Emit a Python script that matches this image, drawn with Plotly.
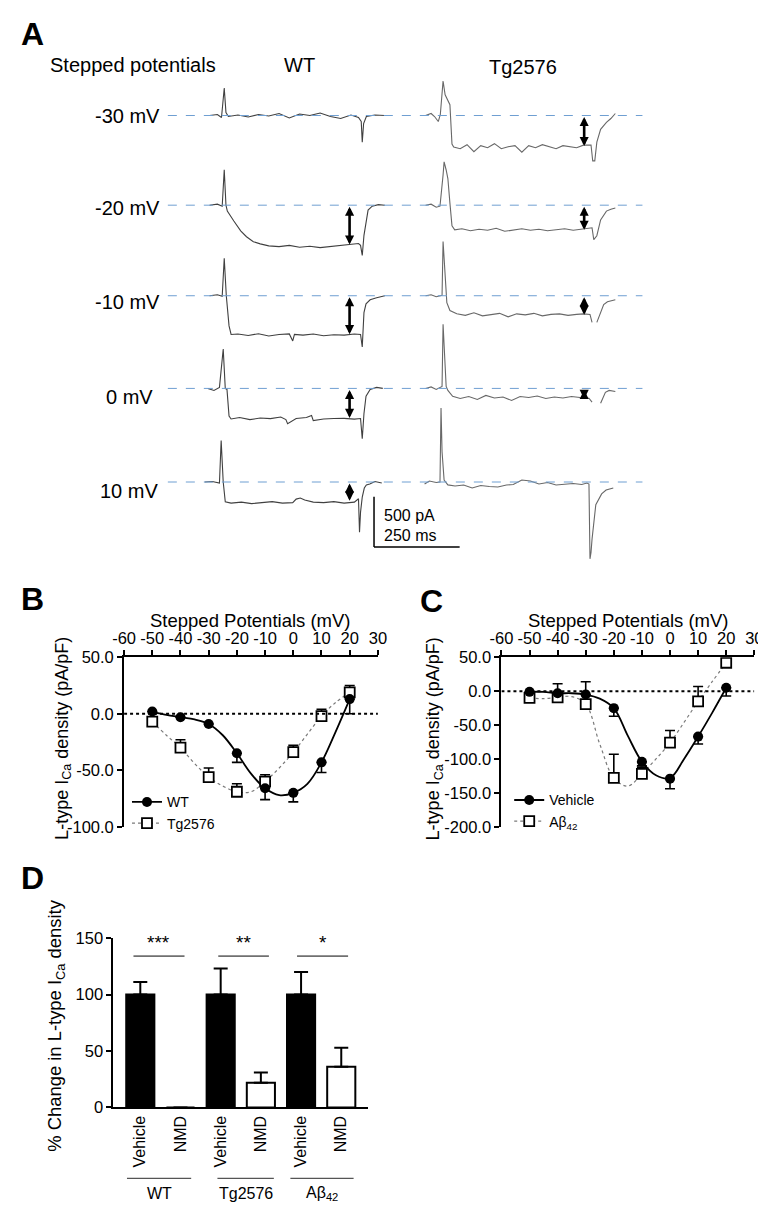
import plotly.graph_objects as go

W, H = 766, 1207
FONT = "Liberation Sans, Arial, sans-serif"

# --------------------------------------------------------------------------
# Panel A: example current traces (t in ms from step onset, I in pA from baseline)
# --------------------------------------------------------------------------
STEP_LABELS = ["-30 mV", "-20 mV", "-10 mV", "0 mV", "10 mV"]

WT_M30_T = [-43, -20, -8, 0, 5, 12, 40, 70, 100, 130, 160, 190, 220, 250, 280, 310, 340, 370, 392, 400, 403, 407, 415, 440, 469]
WT_M30_I = [0, 10, -20, 274, 30, -10, 5, -15, 10, -5, 20, -25, 15, 0, 25, -10, -30, 5, -20, -60, -265, -80, -10, 5, 0]
WT_M20_T = [-43, -20, -6, 0, 5, 9, 28, 48, 65, 85, 105, 130, 160, 190, 220, 250, 280, 310, 340, 369, 392, 398, 403, 408, 414, 420, 432, 450, 469]
WT_M20_I = [0, 10, -10, 353, 0, -59, -157, -255, -314, -363, -385, -405, -412, -400, -418, -408, -422, -410, -400, -392, -382, -400, -500, -300, -150, -49, -10, 5, 0]
WT_M10_T = [-43, -20, -6, 0, 6, 14, 20, 40, 70, 100, 130, 160, 190, 200, 205, 230, 260, 290, 320, 350, 380, 398, 403, 408, 414, 426, 445, 469]
WT_M10_I = [0, 10, -5, 372, 0, -300, -385, -380, -395, -378, -400, -385, -380, -450, -385, -392, -380, -398, -388, -392, -380, -385, -510, -167, -80, -40, -20, 0]
WT_0_T = [-48, -30, -14, -3, 3, 8, 14, 20, 45, 75, 105, 135, 165, 180, 185, 210, 240, 255, 260, 290, 320, 350, 380, 398, 403, 408, 414, 426, 445, 463]
WT_0_I = [0, -20, 10, 392, 0, -10, -274, -304, -290, -310, -295, -300, -285, -310, -350, -300, -290, -270, -320, -305, -300, -298, -305, -300, -500, -250, -78, -10, 10, 0]
WT_10_T = [-57, -35, -14, -9, -3, 3, 20, 50, 80, 110, 140, 170, 200, 210, 222, 235, 260, 290, 320, 350, 380, 392, 395, 398, 403, 409, 415, 425, 440, 460]
WT_10_I = [0, 5, -10, 412, 0, -196, -210, -200, -215, -205, -195, -210, -205, -170, -160, -180, -200, -205, -195, -210, -200, -167, -500, -300, -150, -60, -29, -20, 5, -10]

TG_M30_T = [-51, -35, -25, -14, -8, 0, 6, 14, 20, 26, 31, 50, 70, 90, 110, 130, 150, 170, 190, 210, 230, 250, 270, 290, 310, 330, 350, 370, 390, 410, 426, 432, 437, 443, 449, 460, 477, 490, 503]
TG_M30_I = [0, 20, -10, -60, 10, 343, 206, 140, 108, -284, -314, -330, -290, -360, -300, -320, -280, -330, -310, -300, -365, -300, -320, -290, -310, -330, -300, -310, -320, -295, -290, -294, -451, -451, -265, -137, -69, -30, 20]
TG_M20_T = [-51, -35, -20, -9, 0, 3, 9, 14, 20, 26, 34, 55, 80, 105, 130, 155, 180, 205, 230, 255, 280, 305, 330, 355, 380, 405, 425, 435, 440, 449, 460, 477, 490, 503]
TG_M20_I = [0, 10, -20, -10, 300, 431, 350, 265, 20, -206, -245, -235, -255, -240, -250, -230, -260, -245, -235, -250, -240, -255, -245, -235, -250, -240, -225, -225, -343, -304, -147, -59, -40, -29]
TG_M10_T = [-51, -35, -20, -9, -3, 0, 6, 11, 20, 40, 65, 90, 115, 140, 165, 190, 215, 240, 265, 290, 315, 340, 365, 390, 410, 429, 435, None, 449, 460, 469, 480, 489, 503]
TG_M10_I = [0, 10, -10, 0, 5, 539, 225, -69, -147, -180, -195, -170, -200, -185, -175, -210, -180, -190, -175, -200, -185, -180, -195, -185, -180, -186, -265, None, -265, -160, -88, -60, -49, -39]
TG_0_T = [-51, -35, -20, -9, -3, 0, 5, 9, 14, 28, 50, 75, 100, 125, 150, 175, 200, 225, 250, 275, 300, 325, 350, 375, 400, 426, 435, None, 460, 468, 474, 485, 503]
TG_0_I = [0, 15, -10, 10, 20, 637, 300, 20, -20, -78, -100, -80, -110, -70, -95, -85, -120, -80, -90, -75, -100, -85, -95, -80, -90, -98, -137, None, -147, -90, -39, -20, -30]
TG_10_T = [-54, -40, -20, -9, -6, -3, 3, 14, 35, 60, 85, 110, 135, 160, 185, 205, 230, 255, 280, 305, 330, 355, 380, 405, 420, 426, 429, 432, 435, 446, 463, 476, 486, 497]
TG_10_I = [-20, 10, -5, 0, 735, 300, 20, -29, -40, -30, -60, -35, -45, -50, -30, -25, 20, 10, -20, -5, -30, -20, -15, -25, -10, -20, -764, -700, -568, -225, -118, -80, -69, -59]

# measured current amplitude (double arrows), pA; None = no arrow
WT_AMP = [None, 392, 382, 294, 186]
TG_AMP = [304, 245, 190, 105, None]

# --------------------------------------------------------------------------
# Panels B and C: I-V relations
# --------------------------------------------------------------------------
V_STEPS = [-50, -40, -30, -20, -10, 0, 10, 20]
B_WT = [2, -3, -9, -35, -66, -70, -43, 13]
B_WT_SEM = [0, 0, 0, 8, 10, 8, 9, 13]
B_TG = [-7, -30, -56, -69, -60, -34, -2, 19]
B_TG_SEM = [0, 7, 8, 7, 6, 6, 6, 6]

C_VEH = [-1, -3, -5, -25, -104, -129, -67, 5]
C_VEH_SEM = [0, 0, 0, 12, 6, 15, 11, 12]
C_AB = [-10, -9, -19, -128, -122, -76, -15, 42]
C_AB_SEM = [0, 20, 33, 35, 10, 18, 22, 0]

FIT_V = [-50, -45, -40, -35, -30, -25, -20, -15, -10, -5, 0, 5, 10, 15, 20]
B_WT_FIT = [2, -1, -3, -5, -9, -19, -35, -53, -66, -72, -70, -62, -43, -16, 13]
B_TG_FIT = [-7, -19, -30, -44, -56, -64, -69, -69, -60, -48, -34, -18, -2, 10, 19]
C_VEH_FIT = [-1, -1, -3, -3, -5, -11, -25, -66, -104, -124, -128, -100, -67, -32, 5]
C_AB_FIT = [-10, -11, -9, -8, -19, -78, -128, -140, -122, -100, -76, -46, -15, 14, 42]

IV_XTICKS = [-60, -50, -40, -30, -20, -10, 0, 10, 20, 30]
B_YTICKS = [50, 0, -50, -100]
C_YTICKS = [50, 0, -50, -100, -150, -200]

# --------------------------------------------------------------------------
# Panel D: % change bars
# --------------------------------------------------------------------------
D_LABELS = ["Vehicle", "NMD", "Vehicle", "NMD", "Vehicle", "NMD"]
D_VALUES = [100, 0, 100, 22, 100, 36]
D_SEM = [11, 0, 23, 9, 20, 17]
D_GROUPS = ["WT", "Tg2576", "Aβ<sub>42</sub>"]
D_STARS = ["***", "**", "*"]
D_YTICKS = [0, 50, 100, 150]


def fx(p):
    return p / W


def fy(p):
    return 1 - p / H


def hyph(vals, fmt):
    return [fmt.format(v) for v in vals]


# panel A geometry (pixel layout of the trace montage)
MS_PER_PX, PA_PER_PX = 2.84, 9.8
T0_PX, BASE_PX, A_TOP, A_BOT = 210, 100, 40, 560
ROW_OFFSET = [0, -892, -1793, -2715, -3646]
TG_SHIFT = 639
WT_ARROW_T, TG_ARROW_T = 366, 412

fig = go.Figure()
annotations = []
shapes = []


def ann(text, x, y, size=16, xanchor="center", yanchor="middle", bold=False, angle=0, **kw):
    d = dict(text=f"<b>{text}</b>" if bold else text, x=x, y=y, xref="paper", yref="paper",
             showarrow=False, xanchor=xanchor, yanchor=yanchor, textangle=angle,
             font=dict(family=FONT, size=size, color="black"))
    d.update(kw)
    annotations.append(d)


# ---- panel A traces
wt = [(WT_M30_T, WT_M30_I), (WT_M20_T, WT_M20_I), (WT_M10_T, WT_M10_I), (WT_0_T, WT_0_I), (WT_10_T, WT_10_I)]
tg = [(TG_M30_T, TG_M30_I), (TG_M20_T, TG_M20_I), (TG_M10_T, TG_M10_I), (TG_0_T, TG_0_I), (TG_10_T, TG_10_I)]
x_lo = (152 - T0_PX) * MS_PER_PX
x_hi = (640 - T0_PX) * MS_PER_PX
for k, off in enumerate(ROW_OFFSET):
    shapes.append(dict(type="line", xref="x", yref="y", x0=x_lo, x1=x_hi, y0=off, y1=off,
                       line=dict(color="#6f9fd2", width=1, dash="dash")))
    for (tt, ii), shift, col in ((wt[k], 0, "#404040"), (tg[k], TG_SHIFT, "#686868")):
        fig.add_trace(go.Scatter(
            x=[None if t is None else t + shift for t in tt],
            y=[None if i is None else i + off for i in ii],
            mode="lines", line=dict(color=col, width=1.1), showlegend=False,
            xaxis="x", yaxis="y", connectgaps=False, hoverinfo="skip"))
    for amp, t in ((WT_AMP[k], WT_ARROW_T), (TG_AMP[k], TG_ARROW_T + TG_SHIFT)):
        if amp:
            annotations.append(dict(x=t, y=off - amp, ax=t, ay=off, xref="x", yref="y",
                                    axref="x", ayref="y", text="", showarrow=True,
                                    arrowhead=2, arrowside="end+start", arrowsize=0.7,
                                    arrowwidth=2.6, arrowcolor="black", standoff=0, startstandoff=0))

# scale bar (500 pA, 250 ms)
sb_t = (364 - T0_PX) * MS_PER_PX
sb_i = -(538 - BASE_PX) * PA_PER_PX
shapes.append(dict(type="line", xref="x", yref="y", x0=sb_t, x1=sb_t, y0=sb_i, y1=sb_i + 500,
                   line=dict(color="black", width=1.5)))
shapes.append(dict(type="line", xref="x", yref="y", x0=sb_t, x1=sb_t + 250, y0=sb_i, y1=sb_i,
                   line=dict(color="black", width=1.5)))
ann("500 pA", fx(372), fy(506), 16, xanchor="left")
ann("250 ms", fx(372), fy(526), 16, xanchor="left")

ann("A", fx(-1), fy(17), 32, xanchor="left", bold=True)
ann("Stepped potentials", fx(29), fy(49), 20, xanchor="left")
ann("WT", fx(287), fy(49), 20)
ann("Tg2576", fx(517), fy(51), 20)
for lab, (xp, yp) in zip(STEP_LABELS, [(146, 100), (146, 194), (146, 289), (139, 386), (144, 481)]):
    ann(lab, fx(xp), fy(yp), 20, xanchor="right")


# ---- panels B and C
def iv_panel(xa, ya, v, y1, s1, f1, n1, y2, s2, f2, n2, legend):
    fig.add_trace(go.Scatter(x=FIT_V, y=f2, mode="lines", line=dict(color="#7a7a7a", width=1.2, dash="dot", shape="spline"),
                             xaxis=xa, yaxis=ya, showlegend=False, hoverinfo="skip"))
    fig.add_trace(go.Scatter(x=FIT_V, y=f1, mode="lines", line=dict(color="black", width=1.8, shape="spline"),
                             xaxis=xa, yaxis=ya, showlegend=False, hoverinfo="skip"))
    fig.add_trace(go.Scatter(x=v, y=y2, mode="markers", xaxis=xa, yaxis=ya, showlegend=False,
                             marker=dict(symbol="square", size=10, color="white", line=dict(color="black", width=1.8)),
                             error_y=dict(type="data", symmetric=False, array=s2, arrayminus=[0] * len(s2),
                                          color="black", thickness=1.6, width=5)))
    fig.add_trace(go.Scatter(x=v, y=y1, mode="markers", xaxis=xa, yaxis=ya, showlegend=False,
                             marker=dict(symbol="circle", size=10, color="black"),
                             error_y=dict(type="data", symmetric=False, array=[0] * len(s1), arrayminus=s1,
                                          color="black", thickness=1.6, width=5)))
    fig.add_trace(go.Scatter(x=[None], y=[None], mode="lines+markers", name=n1, legend=legend,
                             xaxis=xa, yaxis=ya, line=dict(color="black", width=1.8),
                             marker=dict(symbol="circle", size=10, color="black")))
    fig.add_trace(go.Scatter(x=[None], y=[None], mode="lines+markers", name=n2, legend=legend,
                             xaxis=xa, yaxis=ya, line=dict(color="#7a7a7a", width=1.2, dash="dot"),
                             marker=dict(symbol="square", size=10, color="white", line=dict(color="black", width=1.8))))
    shapes.append(dict(type="line", xref=xa, yref=ya, x0=-60, x1=30, y0=0, y1=0,
                       line=dict(color="black", width=2, dash="dot")))


iv_panel("x2", "y2", V_STEPS, B_WT, B_WT_SEM, B_WT_FIT, "WT", B_TG, B_TG_SEM, B_TG_FIT, "Tg2576", "legend")
iv_panel("x3", "y3", V_STEPS, C_VEH, C_VEH_SEM, C_VEH_FIT, "Vehicle", C_AB, C_AB_SEM, C_AB_FIT, "Aβ<sub>42</sub>", "legend2")

ann("B", fx(-1), fy(591), 32, xanchor="left", bold=True)
ann("C", fx(409), fy(593), 32, xanchor="left", bold=True)
ann("Stepped Potentials (mV)", fx(237), fy(613), 18.5)
ann("Stepped Potentials (mV)", fx(626), fy(613), 18.5)
ann("L-type I<sub>Ca</sub> density (pA/pF)", fx(44), fy(732), 18, angle=-90)
ann("L-type I<sub>Ca</sub> density (pA/pF)", fx(426), fy(733), 18, angle=-90)

# ---- panel D
fig.add_trace(go.Bar(x=list(range(len(D_VALUES))), y=D_VALUES, width=0.7, xaxis="x4", yaxis="y4",
                     marker=dict(color=["black", "white"] * 3, line=dict(color="black", width=2)),
                     error_y=dict(type="data", symmetric=False, array=D_SEM, arrayminus=[0] * len(D_SEM),
                                  color="black", thickness=2, width=7),
                     showlegend=False, hoverinfo="skip"))
for (a, b), star in zip([(-0.17, 1.10), (1.94, 3.20), (3.90, 5.17)], D_STARS):
    shapes.append(dict(type="line", xref="x4", yref="y4", x0=a, x1=b, y0=134, y1=134,
                       line=dict(color="#707070", width=1.8)))
    annotations.append(dict(x=(a + b) / 2, y=146, xref="x4", yref="y4", text=star, showarrow=False,
                            font=dict(family=FONT, size=19, color="black")))
for (a, b), grp in zip([(110, 176), (203, 261), (278, 343)], D_GROUPS):
    shapes.append(dict(type="line", xref="paper", yref="paper", x0=fx(a), x1=fx(b), y0=fy(1179), y1=fy(1179),
                       line=dict(color="#555555", width=1.2)))
    ann(grp, fx((a + b) / 2), fy(1194), 16)

ann("D", fx(-1), fy(874), 32, xanchor="left", bold=True)
ann("% Change in L-type I<sub>Ca</sub> density", fx(37), fy(1024), 18.4, angle=-90)

axis_common = dict(showgrid=False, zeroline=False, showline=True, linecolor="black", linewidth=2,
                   ticks="outside", ticklen=5, tickwidth=2, tickcolor="black",
                   tickfont=dict(family=FONT, size=16.5, color="black"))

legend_common = dict(font=dict(family=FONT, size=14, color="black"), bgcolor="rgba(0,0,0,0)",
                     xanchor="left", yanchor="top", itemwidth=30, tracegroupgap=0, itemclick=False)

fig.update_layout(
    width=W, height=H, autosize=False,
    margin=dict(l=0, r=0, t=0, b=0),
    paper_bgcolor="white", plot_bgcolor="rgba(0,0,0,0)",
    font=dict(family=FONT, color="black"),
    xaxis=dict(domain=[0, 1], range=[-T0_PX * MS_PER_PX, (W - T0_PX) * MS_PER_PX], visible=False, anchor="y"),
    yaxis=dict(domain=[fy(A_BOT), fy(A_TOP)], range=[(BASE_PX - A_BOT) * PA_PER_PX, (BASE_PX - A_TOP) * PA_PER_PX],
               visible=False, anchor="x"),
    xaxis2=dict(domain=[fx(107), fx(368)], range=[-60, 30], side="top", anchor="y2",
                tickvals=IV_XTICKS, ticktext=hyph(IV_XTICKS, "{}"), **axis_common),
    yaxis2=dict(domain=[fy(822), fy(650)], range=[-100, 50], anchor="x2",
                tickvals=B_YTICKS, ticktext=hyph(B_YTICKS, "{:.1f}"), **axis_common),
    xaxis3=dict(domain=[fx(495), fx(755)], range=[-60, 30], side="top", anchor="y3",
                tickvals=IV_XTICKS, ticktext=hyph(IV_XTICKS, "{}"), **axis_common),
    yaxis3=dict(domain=[fy(822), fy(650)], range=[-200, 50], anchor="x3",
                tickvals=C_YTICKS, ticktext=hyph(C_YTICKS, "{:.1f}"), **axis_common),
    xaxis4=dict(domain=[fx(96), fx(358)], range=[-0.67, 5.67], anchor="y4",
                tickvals=list(range(len(D_LABELS))), ticktext=D_LABELS, tickangle=-90,
                **{**axis_common, "ticks": "", "tickfont": dict(family=FONT, size=16, color="black")}),
    yaxis4=dict(domain=[fy(1107), fy(935)], range=[0, 150], anchor="x4",
                tickvals=D_YTICKS, **axis_common),
    legend=dict(x=fx(110), y=fy(781), **legend_common),
    legend2=dict(x=fx(503), y=fy(779), **legend_common),
    shapes=shapes,
    annotations=annotations,
)

fig.write_html("out.html")
